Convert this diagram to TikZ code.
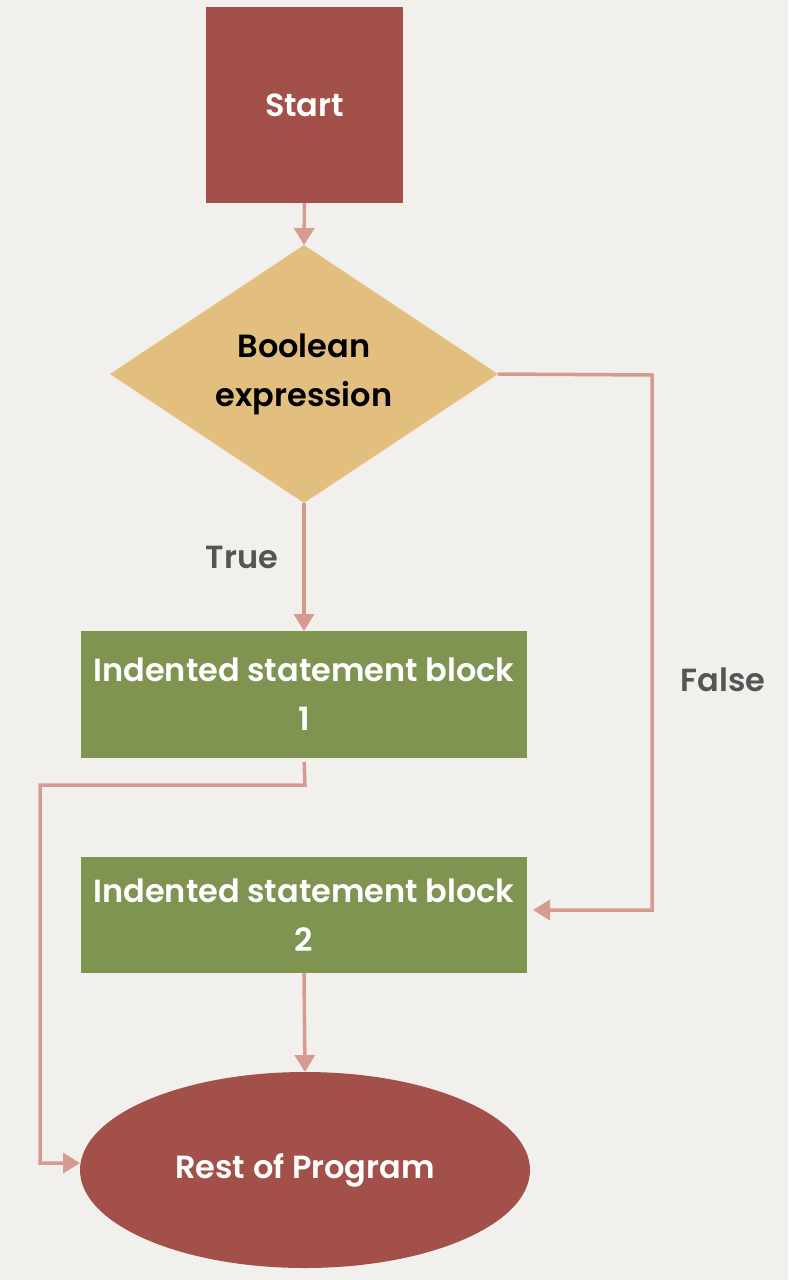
\documentclass[tikz,border=0pt]{standalone}
\usepackage{fontspec}
\setmainfont{Poppins}[UprightFont={* SemiBold}]
\usetikzlibrary{shapes.geometric,arrows.meta}
\definecolor{bg}{HTML}{F1F0EC}
\definecolor{redfill}{HTML}{A4504A}
\definecolor{gold}{HTML}{E3BF7F}
\definecolor{olive}{HTML}{7F9451}
\definecolor{linec}{HTML}{D79A90}
\definecolor{labelc}{HTML}{555555}
\tikzset{
  txt/.style={font=\fontsize{32}{49}\selectfont, align=center, inner sep=0pt, outer sep=0pt},
  redbox/.style={txt, fill=redfill, text=white, minimum width=197pt, minimum height=196pt},
  decision/.style={txt, diamond, fill=gold, text=black, minimum width=388pt, minimum height=247pt},
  stmt/.style={txt, fill=olive, text=white, minimum width=446pt},
  terminal/.style={txt, ellipse, fill=redfill, text=white, minimum width=450pt, minimum height=196pt},
  conn/.style={draw=linec, line width=3.5pt, -{Triangle[width=20pt,length=17pt]}},
  lbl/.style={txt, text=labelc}
}
\begin{document}
\begin{tikzpicture}[x=1pt,y=-1pt]
\fill[bg] (0,0) rectangle (788,1280);
\useasboundingbox (0,0) rectangle (788,1280);
\node[redbox] (start) at (304.5,105) {Start};
\node[decision] (dia) at (304,374) {Boolean\\expression};
\node[stmt, minimum height=127pt] (b1) at (304,694.5) {Indented statement block\\1};
\node[stmt, minimum height=116pt] (b2) at (304,915) {Indented statement block\\2};
\node[terminal] (end) at (305,1170) {Rest of Program};
\node[lbl] (true) at (242,557) {True};
\node[lbl] (false) at (723,680) {False};
\coordinate (f1) at (652,375);
\coordinate (f2) at (652,910);
\coordinate (r1) at (305,785);
\coordinate (r2) at (40,785);
\coordinate (r3) at (40,1163);
\draw[conn] (start.south) -- (dia.north);
\draw[conn] (dia.south) -- (b1.north);
\draw[conn, shorten >=6pt] (dia.east) -- (f1) -- (f2) -- (b2.east |- f2);
\draw[conn, shorten <=4pt] (b1.south) -- (r1) -- (r2) -- (r3) -- (end.west |- r3);
\draw[conn] (b2.south) -- (end.north);
\end{tikzpicture}
\end{document}
